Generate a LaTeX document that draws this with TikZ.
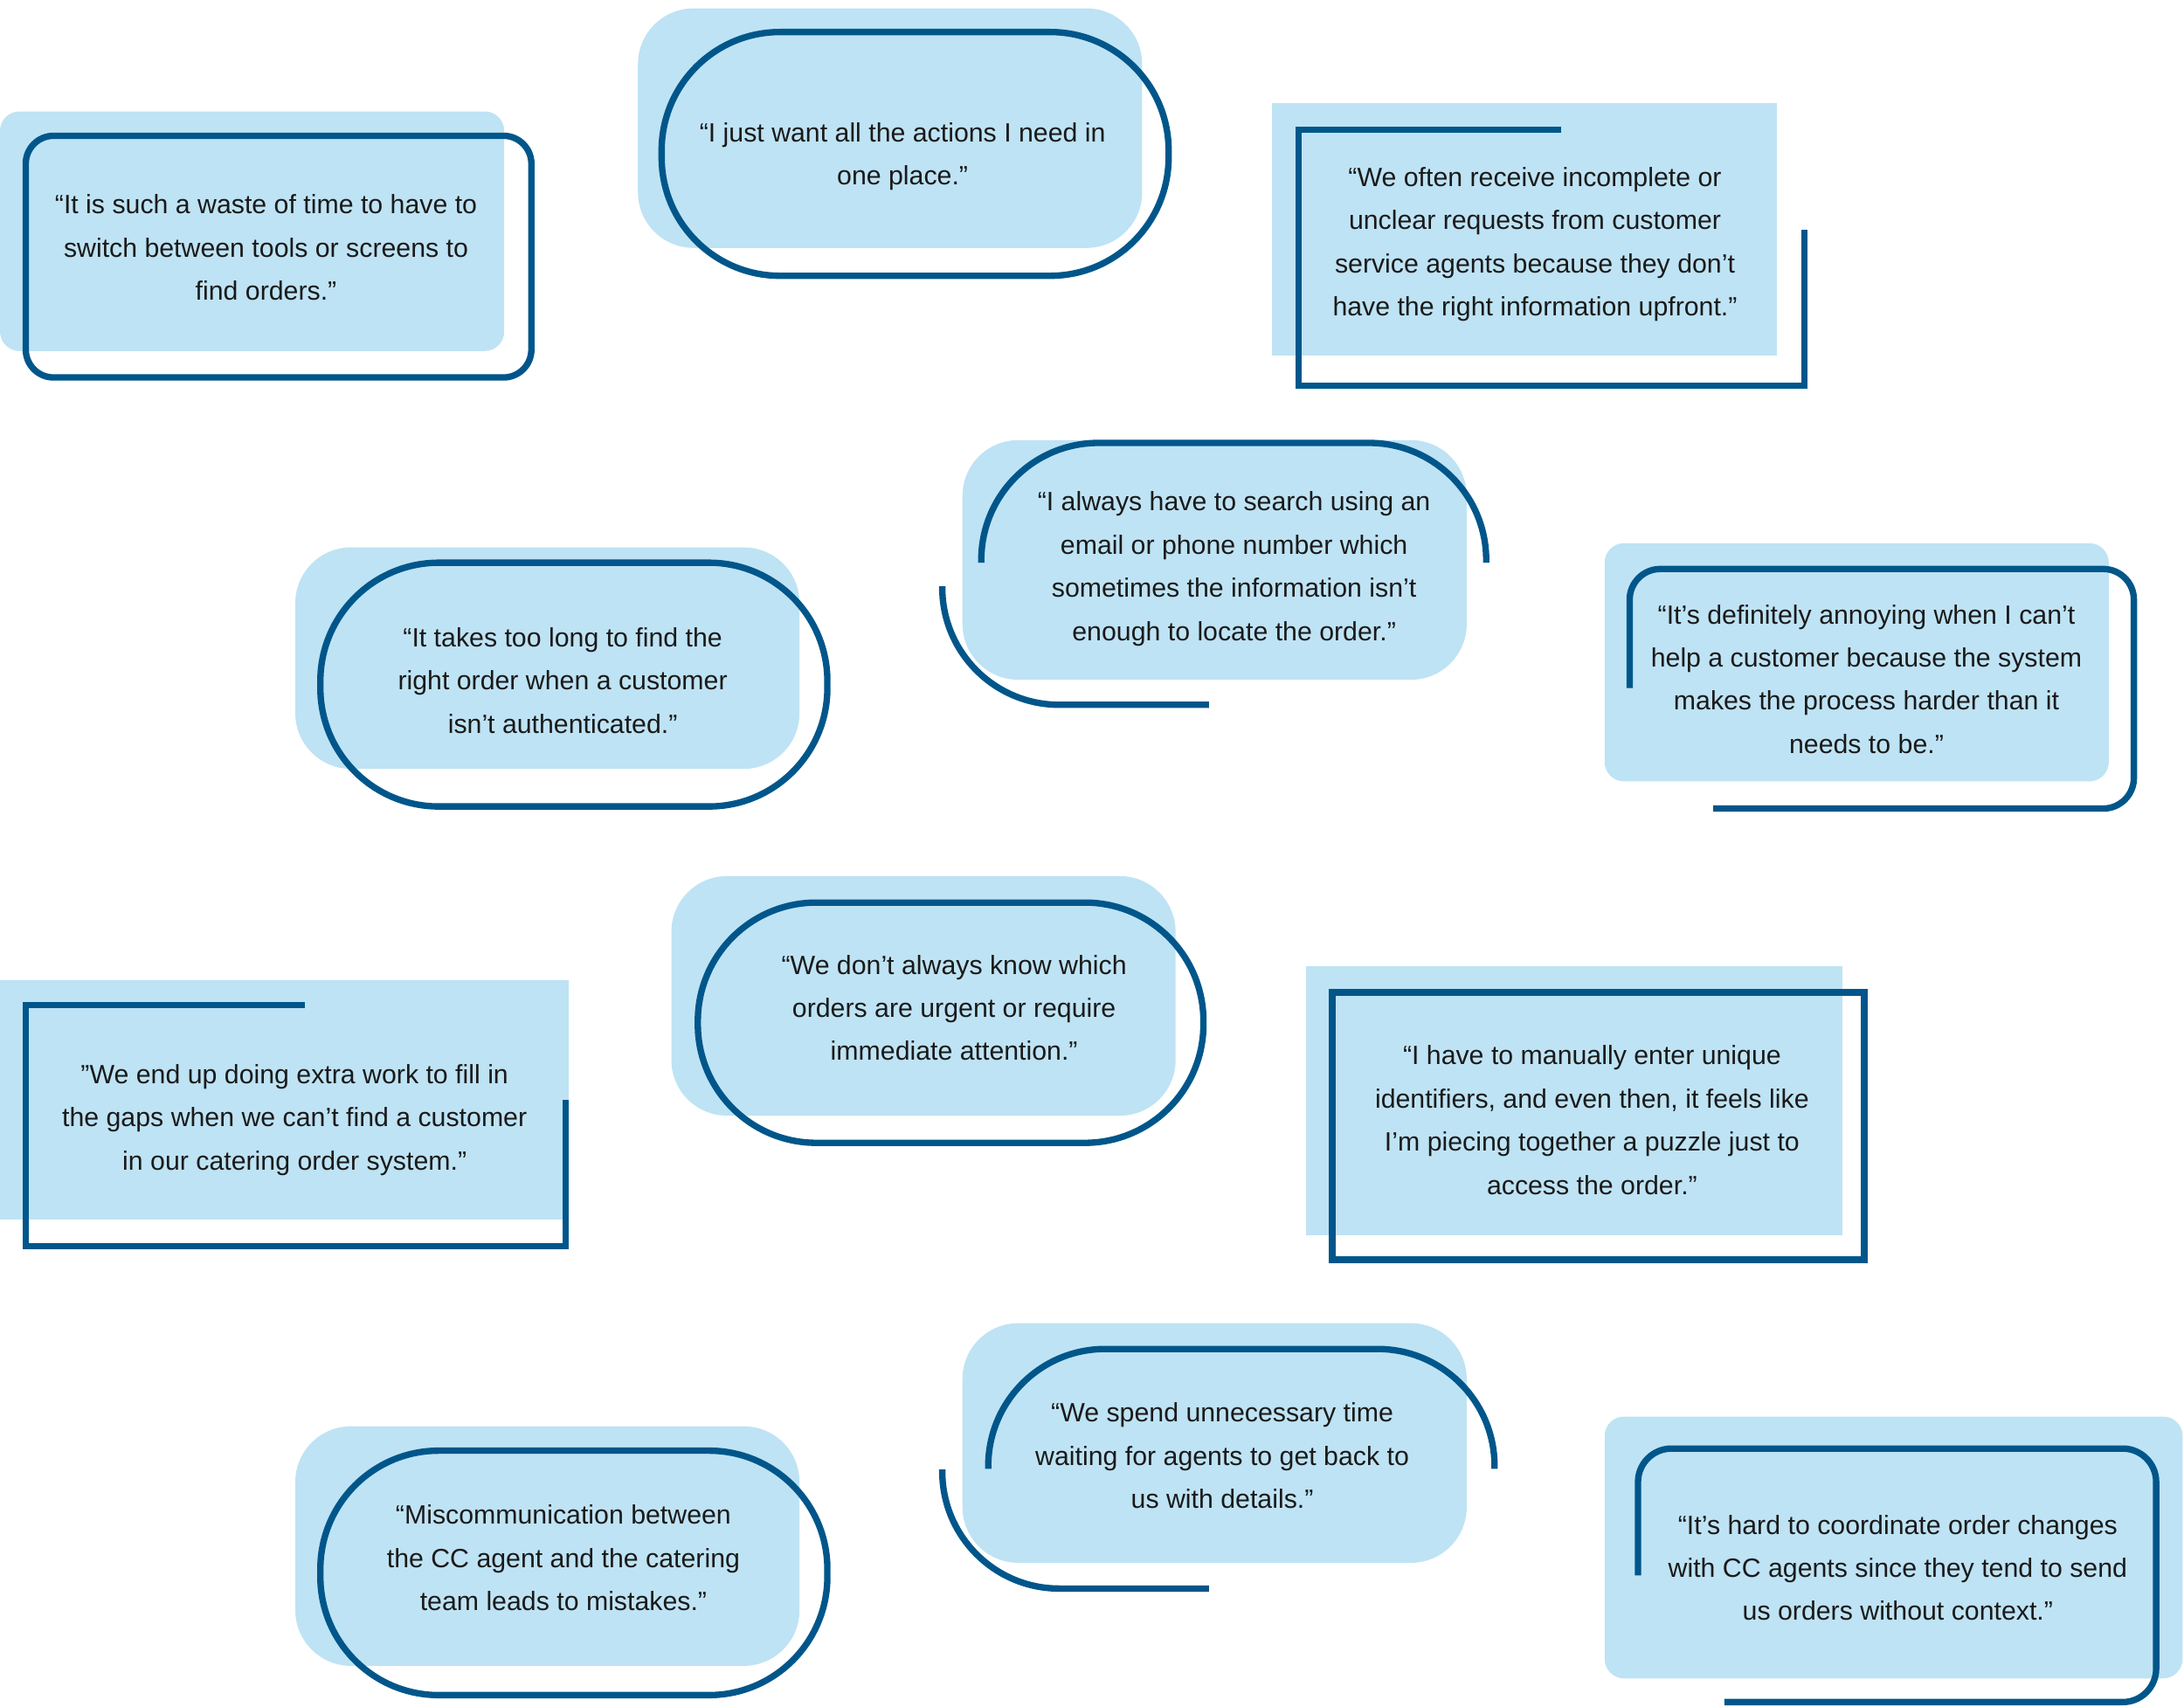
\documentclass[tikz,border=0pt]{standalone}
\usepackage{fontspec}
\setmainfont{Liberation Sans}
\definecolor{fillblue}{HTML}{BEE3F4}
\definecolor{lineblue}{HTML}{00568A}
\definecolor{quotetext}{HTML}{1A1A1A}
\tikzset{
  panel/.style={fill=fillblue, draw=none},
  outl/.style={draw=lineblue, line width=4.6pt, line cap=butt, line join=miter},
  quote/.style={align=center, inner sep=0pt, text=quotetext, font=\fontsize{19}{31}\selectfont, yshift=-1.2pt}
}
\begin{document}
\begin{tikzpicture}[x=1pt, y=-1pt]
\useasboundingbox (0,0) rectangle (1568,1225);
% ---- Box 1
\fill[panel, rounded corners=14] (0,80) rectangle (362,252);
\draw[outl, rounded corners=20] (18.5,97.5) rectangle (381.5,271);
\node[quote] (q1) at (191,177) {\strut“It is such a waste of time to have to\\\strut switch between tools or screens to\\\strut find orders.”};
% ---- Box 2
\fill[panel, rounded corners=40] (458,6) rectangle (820,178);
\draw[outl, rounded corners=85] (475,23) rectangle (839,198);
\node[quote] (q2) at (648,110) {\strut“I just want all the actions I need in\\\strut one place.”};
% ---- Box 3
\fill[panel] (913,74) rectangle (1276,255);
\draw[outl] (1121,93) -- (932.5,93) -- (932.5,277) -- (1295.5,277) -- (1295.5,165);
\node[quote] (q3) at (1102,173) {\strut“We often receive incomplete or\\\strut unclear requests from customer\\\strut service agents because they don’t\\\strut have the right information upfront.”};
% ---- Box 4
\fill[panel, rounded corners=40] (691,316) rectangle (1053,488);
\draw[outl, rounded corners=84] (704.5,404) -- (704.5,318) -- (1067,318) -- (1067,404);
\draw[outl, rounded corners=84] (676.5,421) -- (676.5,506) -- (868,506);
\node[quote] (q4) at (886,406) {\strut“I always have to search using an\\\strut email or phone number which\\\strut sometimes the information isn’t\\\strut enough to locate the order.”};
% ---- Box 5
\fill[panel, rounded corners=40] (212,393) rectangle (574,552);
\draw[outl, rounded corners=85] (230,404) rectangle (594,579);
\node[quote] (q5) at (404,488) {\strut“It takes too long to find the\\\strut right order when a customer\\\strut isn’t authenticated.”};
% ---- Box 6
\fill[panel, rounded corners=14] (1152,390) rectangle (1514,561);
\draw[outl, rounded corners=22] (1170,494) -- (1170,408.5) -- (1532,408.5) -- (1532,580.5) -- (1230,580.5);
\node[quote] (q6) at (1340,487) {\strut“It’s definitely annoying when I can’t\\\strut help a customer because the system\\\strut makes the process harder than it\\\strut needs to be.”};
% ---- Box 7
\fill[panel] (0,703.5) rectangle (408,875.5);
\draw[outl] (219,721.5) -- (18.5,721.5) -- (18.5,894.5) -- (406,894.5) -- (406,789.5);
\node[quote] (q7) at (211.5,801.5) {\strut”We end up doing extra work to fill in\\\strut the gaps when we can’t find a customer\\\strut in our catering order system.”};
% ---- Box 8
\fill[panel, rounded corners=40] (482,629) rectangle (844,801);
\draw[outl, rounded corners=85] (501,648) rectangle (864,820.5);
\node[quote] (q8) at (685,723) {\strut“We don’t always know which\\\strut orders are urgent or require\\\strut immediate attention.”};
% ---- Box 9
\fill[panel] (937.5,693.5) rectangle (1322.5,887);
\draw[outl] (956.5,712.5) rectangle (1338.5,904.5);
\node[quote] (q9) at (1143,803.6) {\strut“I have to manually enter unique\\\strut identifiers, and even then, it feels like\\\strut I’m piecing together a puzzle just to\\\strut access the order.”};
% ---- Box 10
\fill[panel, rounded corners=40] (212,1024) rectangle (574,1196);
\draw[outl, rounded corners=85] (230,1041.5) rectangle (594,1217);
\node[quote] (q10) at (404.5,1118) {\strut“Miscommunication between\\\strut the CC agent and the catering\\\strut team leads to mistakes.”};
% ---- Box 11
\fill[panel, rounded corners=40] (691,950) rectangle (1053,1122);
\draw[outl, rounded corners=84] (709.5,1054.5) -- (709.5,968.5) -- (1073,968.5) -- (1073,1054.5);
\draw[outl, rounded corners=84] (676.5,1055) -- (676.5,1140.5) -- (868,1140.5);
\node[quote] (q11) at (877.5,1044.5) {\strut“We spend unnecessary time\\\strut waiting for agents to get back to\\\strut us with details.”};
% ---- Box 12
\fill[panel, rounded corners=14] (1152,1017) rectangle (1567,1205);
\draw[outl, rounded corners=24] (1176,1131) -- (1176,1040) -- (1548,1040) -- (1548,1222) -- (1238,1222);
\node[quote] (q12) at (1362.5,1125) {\strut“It’s hard to coordinate order changes\\\strut with CC agents since they tend to send\\\strut us orders without context.”};
\end{tikzpicture}
\end{document}
